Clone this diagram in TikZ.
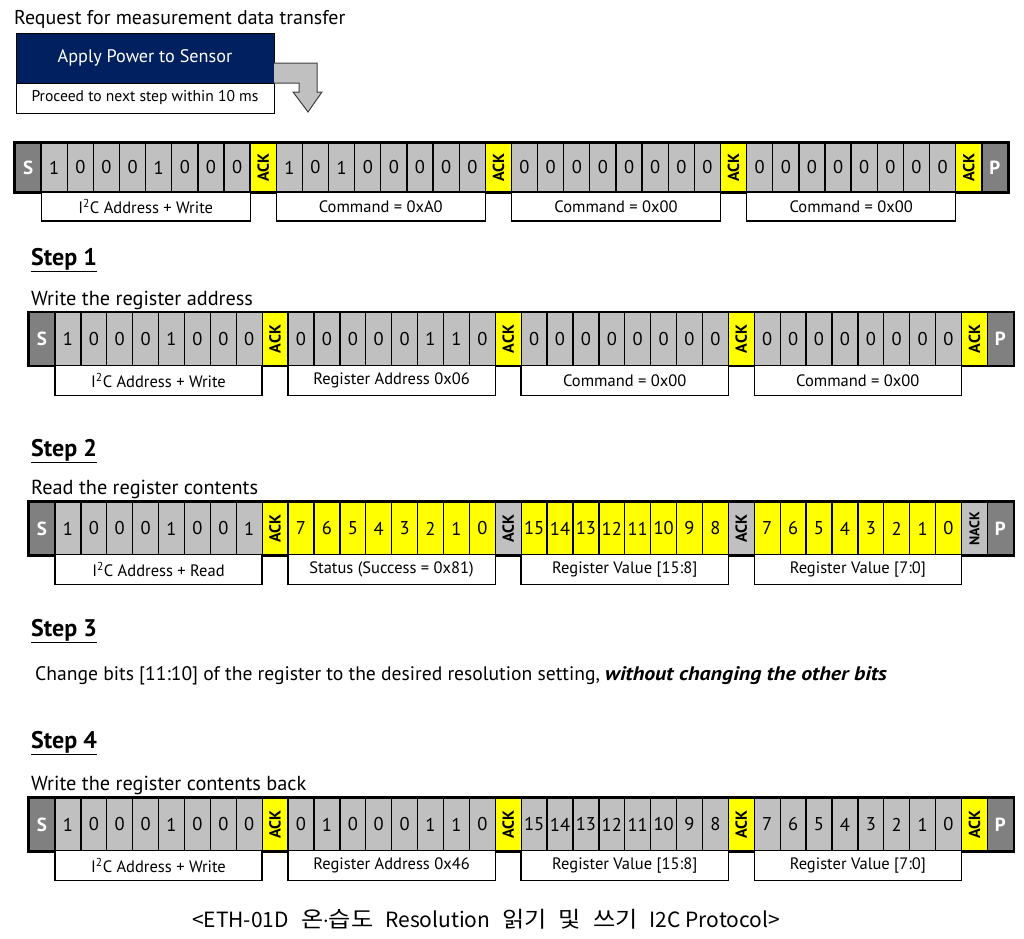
\documentclass[tikz,border=0pt]{standalone}
\usepackage{fontspec}
\usepackage{graphicx}
\usepackage{tikz}
\setmainfont{PT Sans}
\newfontfamily\cjk{Noto Sans CJK KR}
\definecolor{navy}{RGB}{0, 32, 96}
\definecolor{bitgray}{RGB}{192, 192, 192}
\definecolor{spgray}{RGB}{128, 128, 128}
\definecolor{ackyellow}{RGB}{255, 255, 0}
\newcommand{\vtext}[1]{\rotatebox{90}{#1}}
\newcommand{\hg}[1]{\scalebox{1.15}[1.05]{#1}}

\begin{document}
\begin{tikzpicture}[x=1pt, y=-1pt,
every node/.style={inner sep=0pt},
cell/.style={draw=black, line width=1.3pt, font=\fontsize{18.5}{18.5}\selectfont},
bit/.style={cell, fill=bitgray},
dat/.style={cell, fill=ackyellow},
sp/.style={cell, fill=spgray, text=white, font=\bfseries\fontsize{19}{19}\selectfont},
ack/.style={cell, fill=ackyellow, font=\bfseries\fontsize{16}{16}\selectfont},
mack/.style={cell, fill=bitgray, font=\bfseries\fontsize{16}{16}\selectfont},
rowA/.style={minimum width=26.13pt, minimum height=49pt},
rowB/.style={minimum width=25.9pt, minimum height=52.5pt},
frame/.style={draw=black, line width=2.4pt},
lab/.style={draw=black, line width=1.3pt, fill=white, font=\fontsize{16.5}{17}\selectfont},
labA/.style={lab, minimum width=209pt, minimum height=29pt},
labB/.style={lab, minimum width=207.2pt, minimum height=30pt},
head/.style={anchor=base west, font=\bfseries\fontsize{24}{24}\selectfont},
sub/.style={anchor=base west, font=\fontsize{20.3}{21}\selectfont}]
\useasboundingbox (0,0) rectangle (1024,938);
% request block
\node (req) [sub, font=\fontsize{19.9}{20}\selectfont] at (14,24) {Request for measurement data transfer};
\node (apply) [draw=black, line width=1pt, fill=navy, text=white, minimum width=258pt, minimum height=50pt, font=\fontsize{18.2}{18}\selectfont] at (145,58) {Apply Power to Sensor};
\node (proceed) [draw=black, line width=1pt, fill=white, minimum width=258pt, minimum height=30pt, font=\fontsize{15.6}{16}\selectfont] at (145,98) {Proceed to next step within 10 ms};
\draw [line width=1pt, draw=black!75, fill=bitgray] (274,63) -- (317,63) -- (317,92) -- (322,92) -- (308,112) -- (293,92) -- (299,92) -- (299,83) -- (274,83);
% request row
\node (a1) [sp, rowA] at (28.1, 167.5) {S};
\node (a2) [bit, rowA] at (54.2, 167.5) {1};
\node (a3) [bit, rowA] at (80.3, 167.5) {0};
\node (a4) [bit, rowA] at (106.5, 167.5) {0};
\node (a5) [bit, rowA] at (132.6, 167.5) {0};
\node (a6) [bit, rowA] at (158.7, 167.5) {1};
\node (a7) [bit, rowA] at (184.8, 167.5) {0};
\node (a8) [bit, rowA] at (211.0, 167.5) {0};
\node (a9) [bit, rowA] at (237.1, 167.5) {0};
\node (a10) [ack, rowA] at (263.2, 167.5) {\vtext{ACK}};
\node (a11) [bit, rowA] at (289.4, 167.5) {1};
\node (a12) [bit, rowA] at (315.5, 167.5) {0};
\node (a13) [bit, rowA] at (341.6, 167.5) {1};
\node (a14) [bit, rowA] at (367.8, 167.5) {0};
\node (a15) [bit, rowA] at (393.9, 167.5) {0};
\node (a16) [bit, rowA] at (420.0, 167.5) {0};
\node (a17) [bit, rowA] at (446.1, 167.5) {0};
\node (a18) [bit, rowA] at (472.3, 167.5) {0};
\node (a19) [ack, rowA] at (498.4, 167.5) {\vtext{ACK}};
\node (a20) [bit, rowA] at (524.5, 167.5) {0};
\node (a21) [bit, rowA] at (550.7, 167.5) {0};
\node (a22) [bit, rowA] at (576.8, 167.5) {0};
\node (a23) [bit, rowA] at (602.9, 167.5) {0};
\node (a24) [bit, rowA] at (629.1, 167.5) {0};
\node (a25) [bit, rowA] at (655.2, 167.5) {0};
\node (a26) [bit, rowA] at (681.3, 167.5) {0};
\node (a27) [bit, rowA] at (707.4, 167.5) {0};
\node (a28) [ack, rowA] at (733.6, 167.5) {\vtext{ACK}};
\node (a29) [bit, rowA] at (759.7, 167.5) {0};
\node (a30) [bit, rowA] at (785.8, 167.5) {0};
\node (a31) [bit, rowA] at (812.0, 167.5) {0};
\node (a32) [bit, rowA] at (838.1, 167.5) {0};
\node (a33) [bit, rowA] at (864.2, 167.5) {0};
\node (a34) [bit, rowA] at (890.4, 167.5) {0};
\node (a35) [bit, rowA] at (916.5, 167.5) {0};
\node (a36) [bit, rowA] at (942.6, 167.5) {0};
\node (a37) [ack, rowA] at (968.7, 167.5) {\vtext{ACK}};
\node (a38) [sp, rowA] at (994.9, 167.5) {P};
\draw [frame] (a1.north west) rectangle (a38.south east);
\node (la1) [labA] at (145.7, 206.5) {I\textsuperscript{2}C Address + Write};
\node (la2) [labA] at (380.8, 206.5) {Command = 0xA0};
\node (la3) [labA] at (616.0, 206.5) {Command = 0x00};
\node (la4) [labA] at (851.2, 206.5) {Command = 0x00};
% step 1
\node (step1) [head] at (31,265) {\underline{Step 1}};
\node (sub1) [sub] at (31,305) {Write the register address};
\node (b1) [sp, rowB] at (42.0, 339) {S};
\node (b2) [bit, rowB] at (67.9, 339) {1};
\node (b3) [bit, rowB] at (93.8, 339) {0};
\node (b4) [bit, rowB] at (119.7, 339) {0};
\node (b5) [bit, rowB] at (145.6, 339) {0};
\node (b6) [bit, rowB] at (171.5, 339) {1};
\node (b7) [bit, rowB] at (197.4, 339) {0};
\node (b8) [bit, rowB] at (223.3, 339) {0};
\node (b9) [bit, rowB] at (249.2, 339) {0};
\node (b10) [ack, rowB] at (275.1, 339) {\vtext{ACK}};
\node (b11) [bit, rowB] at (301.0, 339) {0};
\node (b12) [bit, rowB] at (326.9, 339) {0};
\node (b13) [bit, rowB] at (352.8, 339) {0};
\node (b14) [bit, rowB] at (378.7, 339) {0};
\node (b15) [bit, rowB] at (404.6, 339) {0};
\node (b16) [bit, rowB] at (430.5, 339) {1};
\node (b17) [bit, rowB] at (456.4, 339) {1};
\node (b18) [bit, rowB] at (482.3, 339) {0};
\node (b19) [ack, rowB] at (508.2, 339) {\vtext{ACK}};
\node (b20) [bit, rowB] at (534.1, 339) {0};
\node (b21) [bit, rowB] at (560.0, 339) {0};
\node (b22) [bit, rowB] at (585.9, 339) {0};
\node (b23) [bit, rowB] at (611.8, 339) {0};
\node (b24) [bit, rowB] at (637.7, 339) {0};
\node (b25) [bit, rowB] at (663.6, 339) {0};
\node (b26) [bit, rowB] at (689.5, 339) {0};
\node (b27) [bit, rowB] at (715.4, 339) {0};
\node (b28) [ack, rowB] at (741.3, 339) {\vtext{ACK}};
\node (b29) [bit, rowB] at (767.2, 339) {0};
\node (b30) [bit, rowB] at (793.1, 339) {0};
\node (b31) [bit, rowB] at (819.0, 339) {0};
\node (b32) [bit, rowB] at (844.9, 339) {0};
\node (b33) [bit, rowB] at (870.8, 339) {0};
\node (b34) [bit, rowB] at (896.7, 339) {0};
\node (b35) [bit, rowB] at (922.6, 339) {0};
\node (b36) [bit, rowB] at (948.5, 339) {0};
\node (b37) [ack, rowB] at (974.4, 339) {\vtext{ACK}};
\node (b38) [sp, rowB] at (1000.3, 339) {P};
\draw [frame] (b1.north west) rectangle (b38.south east);
\node (lb1) [labB] at (158.5, 380.25) {I\textsuperscript{2}C Address + Write};
\node (lb2) [labB] at (391.6, 380.25) {Register Address 0x06};
\node (lb3) [labB] at (624.7, 380.25) {Command = 0x00};
\node (lb4) [labB] at (857.8, 380.25) {Command = 0x00};
% step 2
\node (step2) [head] at (31,456) {\underline{Step 2}};
\node (sub2) [sub] at (31,494) {Read the register contents};
\node (c1) [sp, rowB] at (42.0, 528.5) {S};
\node (c2) [bit, rowB] at (67.9, 528.5) {1};
\node (c3) [bit, rowB] at (93.8, 528.5) {0};
\node (c4) [bit, rowB] at (119.7, 528.5) {0};
\node (c5) [bit, rowB] at (145.6, 528.5) {0};
\node (c6) [bit, rowB] at (171.5, 528.5) {1};
\node (c7) [bit, rowB] at (197.4, 528.5) {0};
\node (c8) [bit, rowB] at (223.3, 528.5) {0};
\node (c9) [bit, rowB] at (249.2, 528.5) {1};
\node (c10) [ack, rowB] at (275.1, 528.5) {\vtext{ACK}};
\node (c11) [dat, rowB] at (301.0, 528.5) {7};
\node (c12) [dat, rowB] at (326.9, 528.5) {6};
\node (c13) [dat, rowB] at (352.8, 528.5) {5};
\node (c14) [dat, rowB] at (378.7, 528.5) {4};
\node (c15) [dat, rowB] at (404.6, 528.5) {3};
\node (c16) [dat, rowB] at (430.5, 528.5) {2};
\node (c17) [dat, rowB] at (456.4, 528.5) {1};
\node (c18) [dat, rowB] at (482.3, 528.5) {0};
\node (c19) [mack, rowB] at (508.2, 528.5) {\vtext{ACK}};
\node (c20) [dat, rowB] at (534.1, 528.5) {15};
\node (c21) [dat, rowB] at (560.0, 528.5) {14};
\node (c22) [dat, rowB] at (585.9, 528.5) {13};
\node (c23) [dat, rowB] at (611.8, 528.5) {12};
\node (c24) [dat, rowB] at (637.7, 528.5) {11};
\node (c25) [dat, rowB] at (663.6, 528.5) {10};
\node (c26) [dat, rowB] at (689.5, 528.5) {9};
\node (c27) [dat, rowB] at (715.4, 528.5) {8};
\node (c28) [mack, rowB] at (741.3, 528.5) {\vtext{ACK}};
\node (c29) [dat, rowB] at (767.2, 528.5) {7};
\node (c30) [dat, rowB] at (793.1, 528.5) {6};
\node (c31) [dat, rowB] at (819.0, 528.5) {5};
\node (c32) [dat, rowB] at (844.9, 528.5) {4};
\node (c33) [dat, rowB] at (870.8, 528.5) {3};
\node (c34) [dat, rowB] at (896.7, 528.5) {2};
\node (c35) [dat, rowB] at (922.6, 528.5) {1};
\node (c36) [dat, rowB] at (948.5, 528.5) {0};
\node (c37) [mack, rowB, font=\bfseries\fontsize{14}{14}\selectfont] at (974.4, 528.5) {\vtext{NACK}};
\node (c38) [sp, rowB] at (1000.3, 528.5) {P};
\draw [frame] (c1.north west) rectangle (c38.south east);
\node (lc1) [labB] at (158.5, 569.75) {I\textsuperscript{2}C Address + Read};
\node (lc2) [labB] at (391.6, 569.75) {Status (Success = 0x81)};
\node (lc3) [labB] at (624.7, 569.75) {Register Value [15:8]};
\node (lc4) [labB] at (857.8, 569.75) {Register Value [7:0]};
% step 3
\node (step3) [head] at (31,636) {\underline{Step 3}};
\node (note3) [anchor=base west, font=\fontsize{19.6}{20}\selectfont] at (35,680) {Change bits [11:10] of the register to the desired resolution setting, \scalebox{1.12}[1]{\textbf{\textit{without changing the other bits}}}};
% step 4
\node (step4) [head] at (31,748) {\underline{Step 4}};
\node (sub4) [sub] at (31,790) {Write the register contents back};
\node (d1) [sp, rowB] at (42.0, 824.5) {S};
\node (d2) [bit, rowB] at (67.9, 824.5) {1};
\node (d3) [bit, rowB] at (93.8, 824.5) {0};
\node (d4) [bit, rowB] at (119.7, 824.5) {0};
\node (d5) [bit, rowB] at (145.6, 824.5) {0};
\node (d6) [bit, rowB] at (171.5, 824.5) {1};
\node (d7) [bit, rowB] at (197.4, 824.5) {0};
\node (d8) [bit, rowB] at (223.3, 824.5) {0};
\node (d9) [bit, rowB] at (249.2, 824.5) {0};
\node (d10) [ack, rowB] at (275.1, 824.5) {\vtext{ACK}};
\node (d11) [bit, rowB] at (301.0, 824.5) {0};
\node (d12) [bit, rowB] at (326.9, 824.5) {1};
\node (d13) [bit, rowB] at (352.8, 824.5) {0};
\node (d14) [bit, rowB] at (378.7, 824.5) {0};
\node (d15) [bit, rowB] at (404.6, 824.5) {0};
\node (d16) [bit, rowB] at (430.5, 824.5) {1};
\node (d17) [bit, rowB] at (456.4, 824.5) {1};
\node (d18) [bit, rowB] at (482.3, 824.5) {0};
\node (d19) [ack, rowB] at (508.2, 824.5) {\vtext{ACK}};
\node (d20) [bit, rowB] at (534.1, 824.5) {15};
\node (d21) [bit, rowB] at (560.0, 824.5) {14};
\node (d22) [bit, rowB] at (585.9, 824.5) {13};
\node (d23) [bit, rowB] at (611.8, 824.5) {12};
\node (d24) [bit, rowB] at (637.7, 824.5) {11};
\node (d25) [bit, rowB] at (663.6, 824.5) {10};
\node (d26) [bit, rowB] at (689.5, 824.5) {9};
\node (d27) [bit, rowB] at (715.4, 824.5) {8};
\node (d28) [ack, rowB] at (741.3, 824.5) {\vtext{ACK}};
\node (d29) [bit, rowB] at (767.2, 824.5) {7};
\node (d30) [bit, rowB] at (793.1, 824.5) {6};
\node (d31) [bit, rowB] at (819.0, 824.5) {5};
\node (d32) [bit, rowB] at (844.9, 824.5) {4};
\node (d33) [bit, rowB] at (870.8, 824.5) {3};
\node (d34) [bit, rowB] at (896.7, 824.5) {2};
\node (d35) [bit, rowB] at (922.6, 824.5) {1};
\node (d36) [bit, rowB] at (948.5, 824.5) {0};
\node (d37) [ack, rowB] at (974.4, 824.5) {\vtext{ACK}};
\node (d38) [sp, rowB] at (1000.3, 824.5) {P};
\draw [frame] (d1.north west) rectangle (d38.south east);
\node (ld1) [labB] at (158.5, 865.75) {I\textsuperscript{2}C Address + Write};
\node (ld2) [labB] at (391.6, 865.75) {Register Address 0x46};
\node (ld3) [labB] at (624.7, 865.75) {Register Value [15:8]};
\node (ld4) [labB] at (857.8, 865.75) {Register Value [7:0]};
% caption
\node (cap) [anchor=base, font=\cjk\fontsize{21}{21}\selectfont] at (486,927) {<ETH-01D\hspace{12pt}\hg{온}{\rmfamily ·}\hg{습도}\hspace{12pt}Resolution\hspace{12pt}\hg{읽기}\hspace{12pt}\hg{및}\hspace{12pt}\hg{쓰기}\hspace{12pt}I2C Protocol>};
\end{tikzpicture}
\end{document}
